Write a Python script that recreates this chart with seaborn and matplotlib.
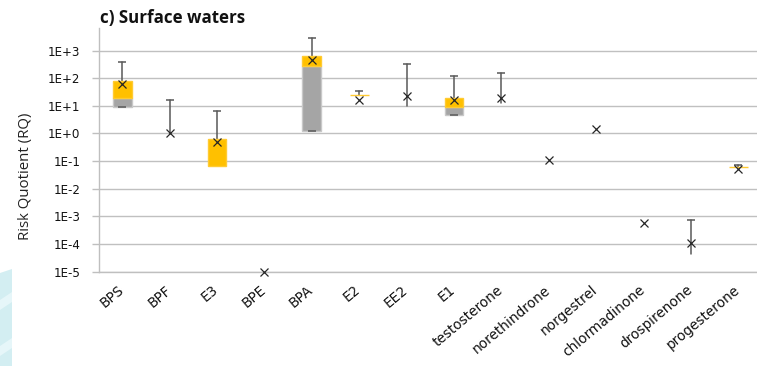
import numpy as np
import pandas as pd
import matplotlib
matplotlib.use("Agg")
import matplotlib.pyplot as plt
import matplotlib.transforms as mtransforms
from matplotlib.patches import Polygon
from matplotlib.ticker import NullLocator
import seaborn as sns

nan = np.nan

# Risk quotients per compound (box = quartiles, whiskers = range, x = mean)
categories = ["BPS", "BPF", "E3", "BPE", "BPA", "E2", "EE2", "E1",
              "testosterone", "norethindrone", "norgestrel",
              "chlormadinone", "drospirenone", "progesterone"]
q1 = [9.2, nan, 0.065, nan, 1.2, 24, nan, 4.6, nan, nan, nan, nan, nan, 0.059]
median = [19, nan, 0.065, nan, 274, 24, nan, 8.8, nan, nan, nan, nan, nan, 0.059]
q3 = [80, nan, 0.61, nan, 632, 24, nan, 20, nan, nan, nan, nan, nan, 0.059]
mean = [61, 1.05, 0.5, 1e-5, 442, 16, 23, 16, 20, 0.114, 1.43, 6.0e-4, 1.1e-4, 0.05]
low = [9.2, 1.0, nan, nan, 1.2, nan, 10, 4.6, 12.2, nan, nan, nan, 4.3e-5, nan]
high = [393, 16, 6.4, nan, 2760, 34, 316, 119, 157, nan, nan, nan, 7.7e-4, 0.075]

ytick_values = [1e-5, 1e-4, 1e-3, 1e-2, 1e-1, 1e0, 1e1, 1e2, 1e3]
ytick_labels = ["1E-5", "1E-4", "1E-3", "1E-2", "1E-1", "1E+0", "1E+1", "1E+2", "1E+3"]

YELLOW = "#FFC000"
GRAY = "#A5A5A5"
DARK = "#595959"


def isnum(v):
    return not (v is None or (isinstance(v, float) and np.isnan(v)))


# Long-form tables for seaborn
gray_rows, yellow_rows, whisk_rows, top_caps, low_caps, mean_rows = [], [], [], [], [], []
for c, a, m, t, mu, lo, hi in zip(categories, q1, median, q3, mean, low, high):
    if isnum(a) and isnum(m) and m > a:
        gray_rows += [(c, v) for v in (a, a, a, m, m)]
    if isnum(m) and isnum(t):
        yellow_rows += [(c, v) for v in (m, m, m, t, t)]
    if isnum(hi):
        start = lo if isnum(lo) else (a if isnum(a) else mu)
        whisk_rows += [(c, start), (c, hi)]
        top_caps.append((c, hi))
    if isnum(lo) and isnum(a) and lo == a:
        low_caps.append((c, lo))
    mean_rows.append((c, mu))

cols = ["compound", "rq"]
gray_df = pd.DataFrame(gray_rows, columns=cols)
yellow_df = pd.DataFrame(yellow_rows, columns=cols)
whisk_df = pd.DataFrame(whisk_rows, columns=cols)
top_caps_df = pd.DataFrame(top_caps, columns=cols)
low_caps_df = pd.DataFrame(low_caps, columns=cols)
mean_df = pd.DataFrame(mean_rows, columns=cols)

sns.set_theme(style="white")
plt.rcParams["font.family"] = ["DejaVu Sans"]

W, H = 757, 366
fig = plt.figure(figsize=(W / 100, H / 100), dpi=100)
left, right, top, bottom = 98.5, 762.1, 28.0, 271.7
ax = fig.add_axes([left / W, 1 - bottom / H, (right - left) / W, (bottom - top) / H])
ax.set_yscale("log")

# whisker lines (under the boxes)
sns.pointplot(data=whisk_df, x="compound", y="rq", order=categories,
              errorbar=("pi", 100), capsize=0, color=DARK,
              marker="", linestyle="none",
              err_kws={"linewidth": 1.1, "zorder": 1.5}, ax=ax)

box_kw = dict(x="compound", y="rq", order=categories, width=0.4, saturation=1,
              linewidth=1, whis=0, showcaps=False, showfliers=False,
              whiskerprops={"visible": False}, medianprops={"visible": False},
              ax=ax)
sns.boxplot(data=gray_df, color=GRAY, linecolor="#C8C8C8",
            boxprops={"zorder": 2}, **box_kw)
sns.boxplot(data=yellow_df, color=YELLOW, linecolor="#FFCB33",
            boxprops={"zorder": 2.1}, **box_kw)

# whisker caps
cap_kw = dict(x="compound", y="rq", order=categories, errorbar=None,
              color=DARK, marker="_", linestyle="none", markersize=6,
              markeredgewidth=1.1, zorder=3, ax=ax)
sns.pointplot(data=top_caps_df, **cap_kw)
sns.pointplot(data=low_caps_df, **cap_kw)

# means
sns.pointplot(data=mean_df, x="compound", y="rq", order=categories,
              errorbar=None, color="#262626", marker="x", linestyle="none",
              markersize=5.6, markeredgewidth=0.9, zorder=4, clip_on=False,
              ax=ax)

ax.set_xlim(-0.5, len(categories) - 0.5)
ax.set_ylim(1e-5, 10 ** 3.815)
ax.set_yticks(ytick_values)
ax.set_yticklabels(ytick_labels)
ax.yaxis.set_minor_locator(NullLocator())
ax.set_xlabel("")
ax.set_ylabel("")

ax.set_axisbelow(True)
ax.yaxis.grid(True, color="#C0C0C0", linewidth=1.0)
ax.xaxis.grid(False)
for s in ("top", "right"):
    ax.spines[s].set_visible(False)
for s in ("left", "bottom"):
    ax.spines[s].set_color("#BFBFBF")
    ax.spines[s].set_linewidth(1.0)

ax.tick_params(axis="y", length=5, width=1, color="#BFBFBF", direction="out",
               labelsize=8.6, pad=8, labelcolor="#111111", left=True)
ax.tick_params(axis="x", length=0, pad=8, labelsize=9.8, labelcolor="#111111")
shift = mtransforms.ScaledTranslation(-5 / 100, 0, fig.dpi_scale_trans)
for lab in ax.get_xticklabels():
    lab.set_rotation(40)
    lab.set_ha("right")
    lab.set_va("top")
    lab.set_rotation_mode("anchor")
    lab.set_transform(lab.get_transform() + shift)

fig.text(100 / W, 1 - 18 / H, "c) Surface waters", family=["Open Sans", "DejaVu Sans"],
         fontweight="bold", fontsize=12.2, ha="left", va="center", color="#111111")
fig.text(25 / W, 1 - 176 / H, "Risk Quotient (RQ)", family=["Open Sans", "DejaVu Sans"],
         fontsize=10.8, rotation=90, ha="center", va="center", color="#222222")

# light decorative band at the lower-left corner
fig.patches.append(Polygon([(0, H - 273), (12, H - 269), (12, 0), (0, 0)],
                           closed=True, transform=None, facecolor="#D3EEF2",
                           edgecolor="none", figure=fig, zorder=0))
for y0 in (58, 12):
    fig.patches.append(Polygon([(0, y0 + 8), (12, y0 + 16), (12, y0 + 6), (0, y0 - 2)],
                               closed=True, transform=None, facecolor="#E6F6F9",
                               edgecolor="none", figure=fig, zorder=0))

fig.savefig("out.png", dpi=100)
